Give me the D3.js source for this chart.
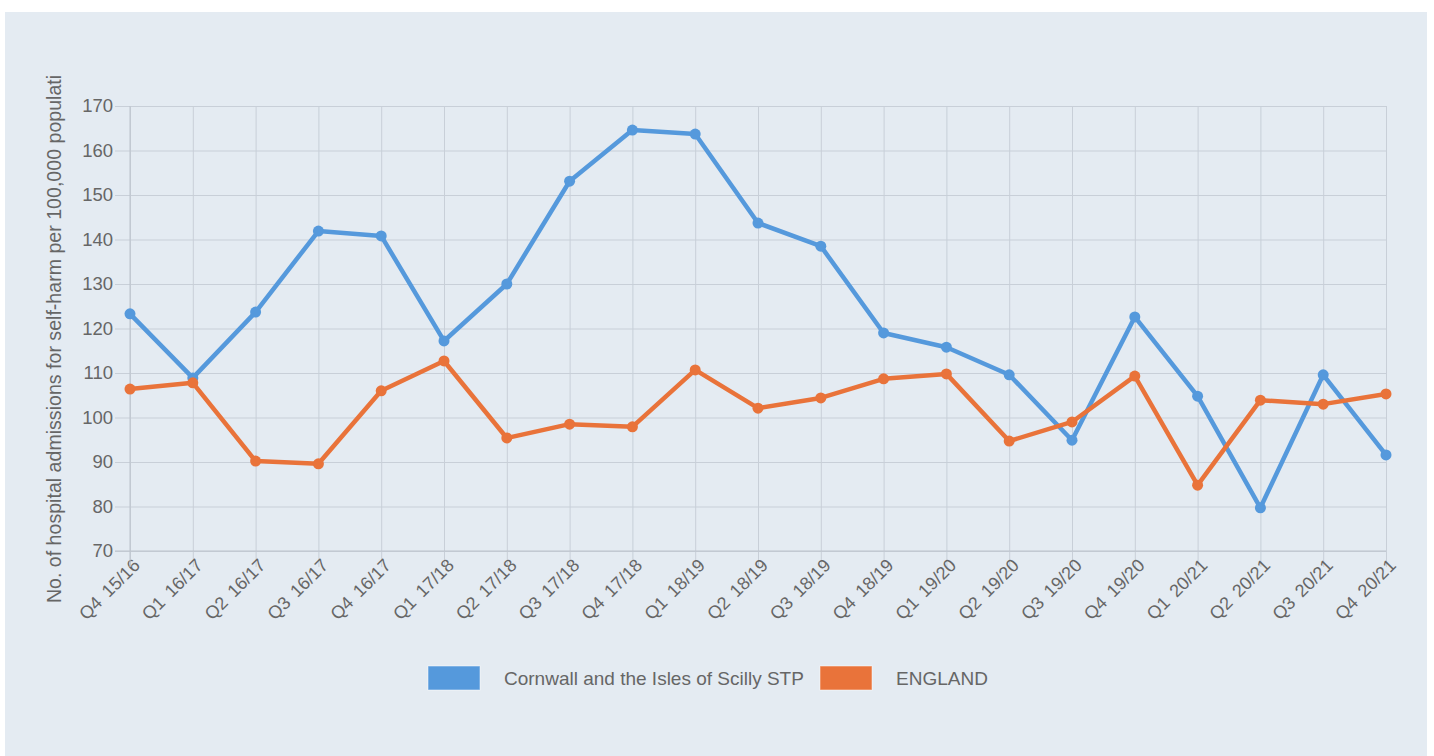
<!DOCTYPE html>
<html>
<head>
<meta charset="utf-8">
<script src="https://cdn.jsdelivr.net/npm/d3@7"></script>
<style>
  body { margin: 0; background: #fff; font-family: "Liberation Sans", Arial, sans-serif; }
  #chart { position: absolute; left: 0; top: 0; }
</style>
</head>
<body>
<div id="chart"></div>
<script>
// quarters
var quarters = ["Q4 15/16", "Q1 16/17", "Q2 16/17", "Q3 16/17", "Q4 16/17", "Q1 17/18", "Q2 17/18",
  "Q3 17/18", "Q4 17/18", "Q1 18/19", "Q2 18/19", "Q3 18/19", "Q4 18/19", "Q1 19/20", "Q2 19/20",
  "Q3 19/20", "Q4 19/20", "Q1 20/21", "Q2 20/21", "Q3 20/21", "Q4 20/21"];

var cornwall = [123.3, 108.9, 123.7, 141.9, 140.8, 117.2, 130.0, 153.1, 164.6, 163.7, 143.7,
  138.5, 119.0, 115.8, 109.6, 94.9, 122.6, 104.8, 79.7, 109.6, 91.6];

var england = [106.4, 107.8, 90.2, 89.6, 106.0, 112.7, 95.4, 98.5, 97.9, 110.7, 102.1,
  104.4, 108.7, 109.8, 94.7, 99.0, 109.3, 84.8, 103.9, 103.0, 105.3];

var yTicks = [70, 80, 90, 100, 110, 120, 130, 140, 150, 160, 170];

var seriesNames = ["Cornwall and the Isles of Scilly STP", "ENGLAND"];
var seriesColors = ["#5599dc", "#e9733a"];

var width = 1434, height = 756;
var plotLeft = 130, plotRight = 1386, plotTop = 106, plotBottom = 551;

var svg = d3.select("#chart").append("svg")
  .attr("width", width)
  .attr("height", height);

// panel background
svg.append("rect")
  .attr("x", 5).attr("y", 12)
  .attr("width", 1422).attr("height", 744)
  .attr("fill", "#e4ebf2");

var x = d3.scalePoint().domain(quarters).range([plotLeft, plotRight]);
var y = d3.scaleLinear().domain([70, 170]).range([plotBottom, plotTop]);

var gridColor = "#c8cfd8";

// horizontal grid + y labels
var yAxis = d3.axisLeft(y).tickValues(yTicks).tickSize(-(plotRight - plotLeft + 15)).tickPadding(2);
var gy = svg.append("g")
  .attr("transform", "translate(" + (plotLeft - 15) + ",0)")
  .call(yAxis);
gy.select(".domain").remove();
gy.selectAll(".tick line").attr("stroke", gridColor).attr("stroke-width", 1);
gy.selectAll(".tick text")
  .attr("fill", "#666")
  .style("font-family", "Liberation Sans, Arial, sans-serif")
  .style("font-size", "18.5px");

// vertical grid + x labels
var xAxis = d3.axisBottom(x).tickSize(-(plotBottom - plotTop + 16)).tickPadding(0);
var gx = svg.append("g")
  .attr("transform", "translate(0," + (plotBottom + 16) + ")")
  .call(xAxis);
gx.select(".domain").remove();
gx.selectAll(".tick line").attr("stroke", gridColor).attr("stroke-width", 1);
gx.selectAll(".tick text")
  .attr("fill", "#666")
  .style("font-family", "Liberation Sans, Arial, sans-serif")
  .style("font-size", "18px")
  .style("word-spacing", "3px")
  .attr("text-anchor", "end")
  .attr("y", 0)
  .attr("dy", "0.35em")
  .attr("transform", "translate(6,-5) rotate(-45)");

// axis lines
svg.append("line")
  .attr("x1", plotLeft).attr("x2", plotLeft)
  .attr("y1", plotTop).attr("y2", plotBottom + 16)
  .attr("stroke", "#bcc3cc");
svg.append("line")
  .attr("x1", plotLeft - 15).attr("x2", plotRight)
  .attr("y1", plotBottom).attr("y2", plotBottom)
  .attr("stroke", "#bcc3cc");

// y label
svg.append("text")
  .attr("transform", "translate(61," + 339 + ") rotate(-90)")
  .attr("text-anchor", "middle")
  .attr("fill", "#666")
  .style("font-size", "19.6px")
  .text("No. of hospital admissions for self-harm per 100,000 populati");

var line = d3.line()
  .x(function (d, i) { return x(quarters[i]); })
  .y(function (d) { return y(d); });

[cornwall, england].forEach(function (data, k) {
  var g = svg.append("g");
  g.append("path")
    .datum(data)
    .attr("d", line)
    .attr("fill", "none")
    .attr("stroke", seriesColors[k])
    .attr("stroke-width", 4.5)
    .attr("stroke-linejoin", "round");
  g.selectAll("circle")
    .data(data)
    .enter()
    .append("circle")
    .attr("cx", function (d, i) { return x(quarters[i]); })
    .attr("cy", function (d) { return y(d); })
    .attr("r", 5.5)
    .attr("fill", seriesColors[k]);
});

// legend
var legendX = [428, 820];
seriesNames.forEach(function (name, k) {
  svg.append("rect")
    .attr("x", legendX[k]).attr("y", 666)
    .attr("width", 52).attr("height", 24)
    .attr("fill", seriesColors[k])
    .attr("stroke", "#fff").attr("stroke-opacity", 0.5)
    .attr("stroke-width", 1);
  svg.append("text")
    .attr("x", legendX[k] + 76).attr("y", 678)
    .attr("dy", "0.35em")
    .attr("fill", "#666")
    .style("font-size", "19px")
    .text(name);
});
</script>
</body>
</html>
